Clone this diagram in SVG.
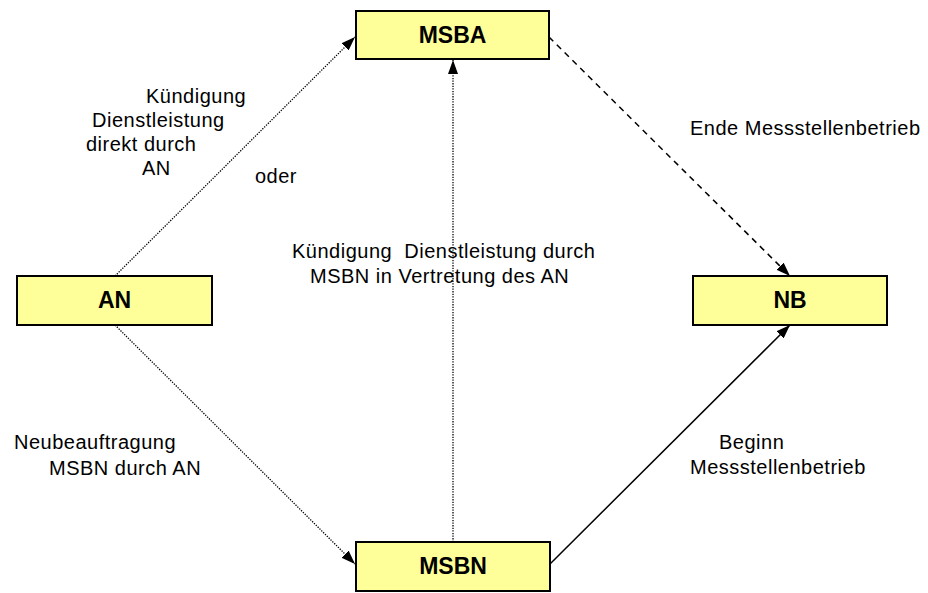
<svg xmlns="http://www.w3.org/2000/svg" width="928" height="593" viewBox="0 0 928 593">
<style>
.box{fill:#FFFF99;stroke:#000;stroke-width:2}
.lbl{font-family:"Liberation Sans",Arial,sans-serif;font-size:23px;font-weight:bold;fill:#000;text-anchor:middle}
.txt{font-family:"Liberation Sans",Arial,sans-serif;font-size:20px;letter-spacing:0.5px;fill:#000}
.dot{fill:none;stroke:#000;stroke-width:1.3;stroke-dasharray:1.3 1.3}
.dash{fill:none;stroke:#000;stroke-width:1.5;stroke-dasharray:6 5}
.solid{fill:none;stroke:#000;stroke-width:1.5}
</style>
<defs>
<marker id="arr" viewBox="0 0 14 10" refX="14" refY="5" markerWidth="14" markerHeight="10" markerUnits="userSpaceOnUse" orient="auto">
<path d="M0,0 L14,5 L0,10 Z" fill="#000"/>
</marker>
</defs>
<rect width="928" height="593" fill="#fff"/>
<g id="connectors">
<line class="dot" x1="115" y1="276" x2="355" y2="37" marker-end="url(#arr)"/>
<line class="dot" x1="115" y1="325" x2="355" y2="564" marker-end="url(#arr)"/>
<line class="dot" x1="453" y1="542" x2="453" y2="60" marker-end="url(#arr)"/>
<line class="dash" x1="549" y1="37" x2="790" y2="276" marker-end="url(#arr)"/>
<line class="solid" x1="550" y1="564" x2="790" y2="325" marker-end="url(#arr)"/>
</g>
<g id="node-MSBA"><rect class="box" x="356" y="11" width="193" height="48"/><text class="lbl" x="452.5" y="43">MSBA</text></g>
<g id="node-AN"><rect class="box" x="17" y="276" width="195" height="49"/><text class="lbl" x="114.5" y="308">AN</text></g>
<g id="node-NB"><rect class="box" x="693" y="276" width="194" height="49"/><text class="lbl" x="790" y="308">NB</text></g>
<g id="node-MSBN"><rect class="box" x="356" y="542" width="194" height="49"/><text class="lbl" x="453" y="574">MSBN</text></g>
<g id="labels">
<text class="txt" x="146" y="103">Kündigung</text>
<text class="txt" x="92" y="127">Dienstleistung</text>
<text class="txt" x="86" y="151">direkt durch</text>
<text class="txt" x="142" y="175">AN</text>
<text class="txt" x="255" y="183">oder</text>
<text class="txt" x="292" y="258" xml:space="preserve">Kündigung  Dienstleistung durch</text>
<text class="txt" x="310" y="283">MSBN in Vertretung des AN</text>
<text class="txt" x="690" y="135">Ende Messstellenbetrieb</text>
<text class="txt" x="14" y="449">Neubeauftragung</text>
<text class="txt" x="49" y="475">MSBN durch AN</text>
<text class="txt" x="719" y="449">Beginn</text>
<text class="txt" x="690" y="474">Messstellenbetrieb</text>
</g>
</svg>
